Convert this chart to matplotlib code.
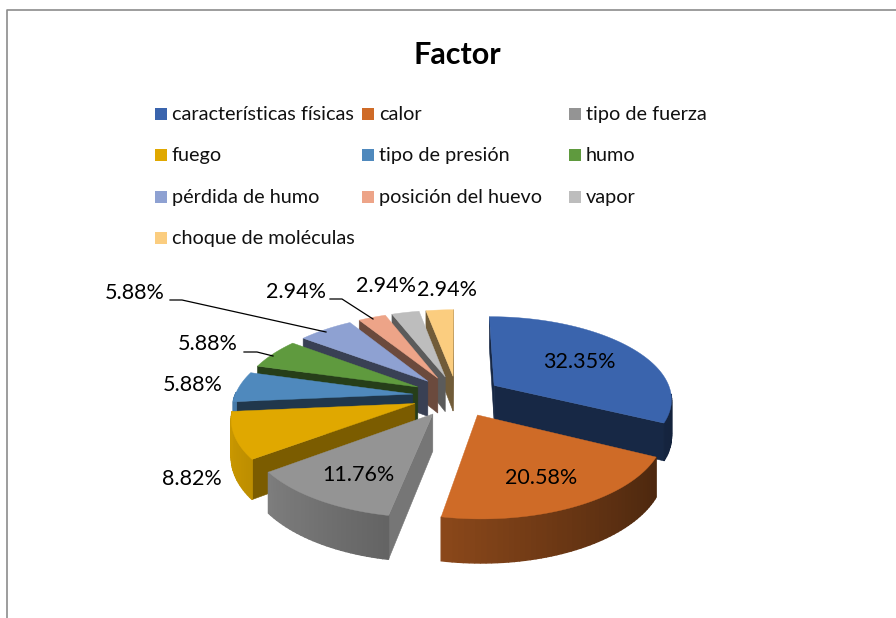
import numpy as np
import matplotlib
matplotlib.use("Agg")
import matplotlib.pyplot as plt
from matplotlib.patches import Polygon, Rectangle

plt.rcParams['font.family'] = ['Lato', 'DejaVu Sans']

# --- chart data ---
categories = ["características físicas", "calor", "tipo de fuerza", "fuego", "tipo de presión",
              "humo", "pérdida de humo", "posición del huevo", "vapor", "choque de moléculas"]
percents = [32.35, 20.58, 11.76, 8.82, 5.88, 5.88, 5.88, 2.94, 2.94, 2.94]
colors = ["#3a64ad", "#cf6b27", "#949494", "#e0a800", "#4f89bd",
          "#5f9a3e", "#8ea1d2", "#eda488", "#bdbdbd", "#fbcd7f"]
wall_shade = [0.40, 0.40, 0.80, 0.55, 0.40, 0.40, 0.40, 0.45, 0.48, 0.45]

# --- layout (pixels of the 896x618 canvas) ---
CX, CY = 457, 396      # pie centre
R, C = 178, 82         # horizontal radius and vertical squash
K = 0.15               # perspective strength
DEPTH = 36             # thickness of the pie
EXPLODE = 0.25

legend_col_x = [155, 362, 569]
legend_row_y = [114, 155, 197, 238]
label_xy = [(579, 362), (541, 478), (358, 475), (192, 479), (193, 385),
            (208, 344), (135, 293), (296, 292), (386, 286), (447, 290)]
leaders = {5: [(244, 352), (257, 352), (273, 356)],
           6: [(170, 300), (182, 300), (326, 332)],
           7: [(330, 299), (342, 299), (373, 319)]}


def project(px, py, drop=0.0):
    s = 1.0 / (1.0 + K * py)
    return CX + R * px * s, CY - C * py * s + drop * s


def shaded(color, f):
    return tuple(min(1.0, c * f) for c in matplotlib.colors.to_rgb(color))


def draw_wedge(ax, a0, a1, e, color, side):
    # angles run clockwise from 12 o'clock
    mid = (a0 + a1) / 2
    ox, oy = e * np.sin(mid), e * np.cos(mid)
    th = np.linspace(a0, a1, max(8, int((a1 - a0) * 40)))
    xs, ys = ox + np.sin(th), oy + np.cos(th)

    top = [project(ox, oy)] + [project(x, y) for x, y in zip(xs, ys)]

    # straight walls, only when they face downward on screen
    for edge, inner, ang in ((top[1], top[-1], a0), (top[-1], top[1], a1)):
        tip = top[0]
        dx, dy = edge[0] - tip[0], edge[1] - tip[1]
        nx, ny = -dy, dx
        if (inner[0] - tip[0]) * nx + (inner[1] - tip[1]) * ny > 0:
            nx, ny = -nx, -ny
        if ny > 0:
            poly = [tip, edge, project(ox + np.sin(ang), oy + np.cos(ang), DEPTH), project(ox, oy, DEPTH)]
            ax.add_patch(Polygon(poly, closed=True, fc=shaded(color, side), ec=shaded(color, side), lw=0.4))

    # outer rim, shaded across its length
    for i in range(len(th) - 1):
        if ys[i] > 0.02 and ys[i + 1] > 0.02:
            continue
        f = 0.62 - 0.28 * np.sin((th[i] + th[i + 1]) / 2)
        quad = [project(xs[i], ys[i]), project(xs[i + 1], ys[i + 1]),
                project(xs[i + 1], ys[i + 1], DEPTH), project(xs[i], ys[i], DEPTH)]
        ax.add_patch(Polygon(quad, closed=True, fc=shaded(color, f), ec=shaded(color, f), lw=1.0))

    ax.add_patch(Polygon(top, closed=True, fc=color, ec=color, lw=0.3))


fig = plt.figure(figsize=(8.96, 6.18), dpi=100)
ax = fig.add_axes([0, 0, 1, 1])
ax.set_xlim(0, 896)
ax.set_ylim(618, 0)
ax.axis("off")

# chart frame
ax.plot([7, 7, 896], [618, 10, 10], color="#8c8c8c", lw=1.2)

ax.text(457, 55, "Factor", ha="center", va="center", fontsize=22, fontweight="bold", color="black")

# legend, row by row
for i, (name, col) in enumerate(zip(categories, colors)):
    lx = legend_col_x[i % 3]
    ly = legend_row_y[i // 3]
    ax.add_patch(Rectangle((lx, ly - 6), 12, 12, fc=col, ec="none"))
    ax.text(lx + 17, ly + 6, name, ha="left", va="baseline", fontsize=14.3, color="#111111")

# pie, back to front
fracs = np.array(percents) / sum(percents)
edges = np.concatenate([[0], np.cumsum(fracs)]) * 2 * np.pi
mids = (edges[:-1] + edges[1:]) / 2
order = np.argsort(-np.cos(mids))
for i in order:
    draw_wedge(ax, edges[i], edges[i + 1], EXPLODE, colors[i], wall_shade[i])

# data labels and leader lines
for i, p in enumerate(percents):
    ax.text(label_xy[i][0], label_xy[i][1], f"{p:.2f}%", ha="center", va="center",
            fontsize=15.5, color="black")
for i, pts in leaders.items():
    ax.plot([q[0] for q in pts], [q[1] for q in pts], color="black", lw=0.9)

fig.savefig("out.png", dpi=100)
